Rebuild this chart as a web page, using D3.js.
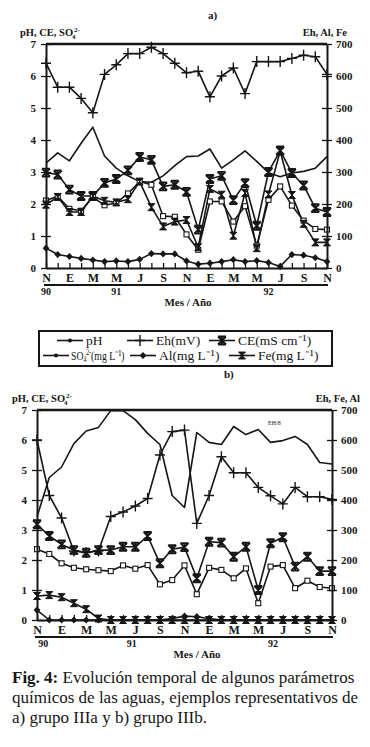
<!DOCTYPE html>
<html>
<head>
<meta charset="utf-8">
<script src="https://cdn.jsdelivr.net/npm/d3@7"></script>
<style>
body { margin: 0; background: #fff; }
svg { display: block; font-family: "Liberation Serif", "Times New Roman", serif; }
</style>
</head>
<body>
<svg width="370" height="747"></svg>
<script>
// Fig. 4 - monthly samples, Nov 1990 .. Nov 1992 (25 months)
var monthTicks = ["N","E","M","M","J","S","N","E","M","M","J","S","N"];
var yearLabels = ["90","91","92"];

// a) grupo IIIa  (pH, CE, SO4 on left axis 0-7 ; Eh, Al, Fe on right axis 0-700)
var phA  = [3.28,3.6,3.35,3.9,4.4,3.5,3.12,2.88,2.7,2.68,2.88,3.2,3.48,3.5,3.72,3.12,3.38,3.66,3.33,2.98,2.85,2.97,3.02,3.12,3.48];
var ehA  = [640,565,565,530,485,605,635,670,670,690,670,640,610,615,535,600,625,545,645,645,645,655,665,660,605];
var ceA  = [2.98,2.92,2.45,2.25,2.25,2.66,2.78,3.05,3.47,3.38,2.55,2.6,2.38,1.2,2.78,2.88,2.12,2.65,1.32,3.0,3.67,2.97,2.58,1.87,1.75];
var so4A = [2.11,2.24,1.85,1.79,2.22,1.96,2.03,2.33,2.7,2.6,1.62,1.6,1.05,0.57,2.08,2.08,1.45,1.93,0.7,2.13,2.55,1.95,1.48,1.22,1.2];
var alA  = [62,42,36,30,25,20,22,20,27,45,44,44,22,12,15,20,26,20,23,17,5,42,40,32,20];
var feA  = [198,222,175,175,225,210,205,215,270,190,130,145,150,65,247,229,101,234,62,230,365,228,138,80,80];

// b) grupo IIIb
var phB  = [3.44,4.75,5.1,5.88,6.3,6.42,6.98,6.98,6.68,6.22,5.85,4.15,3.75,6.25,5.92,5.85,6.45,6.18,6.35,5.92,5.98,6.12,5.85,5.25,5.2];
var ehB  = [600,415,340,230,225,230,345,360,380,405,550,628,633,322,415,544,491,491,442,414,387,442,411,411,402];
var ceB  = [3.19,2.8,2.52,2.33,2.24,2.33,2.33,2.44,2.44,2.8,1.89,2.36,2.43,1.39,2.61,2.58,2.11,2.44,1.0,2.56,2.76,1.78,2.11,1.63,1.63];
var so4B = [2.36,2.2,1.89,1.74,1.69,1.66,1.63,1.82,1.71,1.83,1.19,1.33,1.82,0.86,1.74,1.67,1.39,1.72,0.56,1.78,1.83,1.06,1.31,1.1,1.06];
var alB  = [33,0,0,0,0,0,0,0,0,0,0,5,13,11,5,0,0,0,0,0,0,0,0,0,0];
var feB  = [80,83,76,56,36,5,0,0,0,0,0,0,0,0,0,0,0,0,0,0,0,0,0,0,0];

var ink = "#161616";
var svg = d3.select("svg");

function marker(g, type) {
  if (type == "dot") {
    g.append("circle").attr("r", 2).attr("fill", ink);
  } else if (type == "plus") {
    g.append("path").attr("d", "M-5,0H5M0,-5.5V5.5").attr("stroke", ink).attr("stroke-width", 1.4);
  } else if (type == "star") {
    g.append("path").attr("d", "M-4,-4L4,4M-4,4L4,-4M-4,-4H4M-4,4H4M0,-4V4")
      .attr("stroke", ink).attr("stroke-width", 1.9);
  } else if (type == "square") {
    g.append("rect").attr("x", -2.5).attr("y", -2.5).attr("width", 5).attr("height", 5)
      .attr("fill", "#fff").attr("stroke", ink).attr("stroke-width", 1.1);
  } else if (type == "diamond") {
    g.append("path").attr("d", "M0,-3.6L3.4,0L0,3.6L-3.4,0Z").attr("fill", ink);
  } else if (type == "hour") {
    g.append("path").attr("d", "M-3.5,-3.5H3.5L-3.5,3.5H3.5Z").attr("fill", ink)
      .attr("stroke", ink).attr("stroke-width", 1);
  }
}

function drawChart(o) {
  var g = svg.append("g");
  var x = d3.scaleLinear().domain([0, 24]).range([o.x0, o.x1]);
  var yL = d3.scaleLinear().domain([0, 7]).range([o.y1, o.y0]);
  var yR = d3.scaleLinear().domain([0, 700]).range([o.y1, o.y0]);

  // series lines, then markers on top
  o.series.forEach(function(s) {
    var y = s.axis == "R" ? yR : yL;
    var line = d3.line().x(function(d, i) { return x(i); }).y(function(d) { return y(d); });
    g.append("path").attr("d", line(s.values)).attr("fill", "none")
      .attr("stroke", ink).attr("stroke-width", 1.6).attr("stroke-linejoin", "round");
  });
  o.series.forEach(function(s) {
    if (!s.mark) return;
    var y = s.axis == "R" ? yR : yL;
    s.values.forEach(function(d, i) {
      marker(g.append("g").attr("transform", "translate(" + x(i) + "," + y(d) + ")"), s.mark);
    });
  });

  // axes
  var left = g.append("g").attr("transform", "translate(" + o.x0 + ",0)")
    .call(d3.axisLeft(yL).ticks(7).tickSize(5).tickSizeOuter(0).tickPadding(5));
  left.selectAll(".tick line").attr("x1", 5);
  var right = g.append("g").attr("transform", "translate(" + o.x1 + ",0)")
    .call(d3.axisRight(yR).ticks(7).tickSize(5).tickSizeOuter(0).tickPadding(4));
  right.selectAll(".tick line").attr("x1", -5);
  var bottom = g.append("g").attr("transform", "translate(0," + o.y1 + ")")
    .call(d3.axisBottom(x).tickValues(d3.range(25)).tickSizeInner(-5).tickSizeOuter(0).tickPadding(5)
      .tickFormat(function(i) { return i % 2 ? "" : monthTicks[i / 2]; }));
  [left, right, bottom].forEach(function(a) {
    a.selectAll(".domain").attr("stroke", ink).attr("stroke-width", 2);
    a.selectAll(".tick line").attr("stroke", ink).attr("stroke-width", 1.3);
    a.selectAll("text").attr("fill", ink).attr("font-family", "Liberation Serif")
      .attr("font-weight", "bold").attr("font-size", 11);
  });
  bottom.selectAll("text").attr("font-size", 12);
  g.append("line").attr("x1", o.x0).attr("x2", o.x1).attr("y1", o.y0).attr("y2", o.y0)
    .attr("stroke", ink).attr("stroke-width", 2.4);

  // year row
  g.append("line").attr("x1", o.x0 - 2).attr("x2", o.x1 + 1).attr("y1", o.y1 + 17).attr("y2", o.y1 + 17)
    .attr("stroke", ink).attr("stroke-width", 2);
  yearLabels.forEach(function(t, k) {
    g.append("text").attr("x", x(o.years[k])).attr("y", o.y1 + 27).attr("text-anchor", "middle")
      .attr("font-size", 10).attr("font-weight", "bold").attr("fill", ink).text(t);
  });
  g.append("text").attr("x", o.midX).attr("y", o.y1 + 38).attr("text-anchor", "middle")
    .attr("font-size", 11).attr("font-weight", "bold").attr("fill", ink).text("Mes / Año");

  // titles
  g.append("text").attr("x", o.tagX).attr("y", o.tagY).attr("font-size", 11)
    .attr("font-weight", "bold").attr("fill", ink).text(o.tag);
  var lt = g.append("text").attr("x", o.ltX).attr("y", o.y0 - 8).attr("font-size", 10.5)
    .attr("font-weight", "bold").attr("fill", ink);
  lt.append("tspan").text("pH, CE, SO");
  lt.append("tspan").attr("font-size", 7).attr("dy", -4).attr("dx", 1).text("2-");
  lt.append("tspan").attr("font-size", 7).attr("dy", 7).attr("dx", -8).text("4");
  g.append("text").attr("x", o.rtX).attr("y", o.y0 - 8).attr("text-anchor", "end").attr("font-size", 10.5)
    .attr("font-weight", "bold").attr("fill", ink).text(o.rightTitle);
}

drawChart({
  x0: 46, x1: 327, y0: 44, y1: 268, tag: "a)", tagX: 208, tagY: 19,
  ltX: 20, rtX: 347, rightTitle: "Eh, Al, Fe", years: [0, 6, 19], midX: 188,
  series: [
    { values: phA, axis: "L", mark: null },
    { values: ehA, axis: "R", mark: "plus" },
    { values: ceA, axis: "L", mark: "star" },
    { values: so4A, axis: "L", mark: "square" },
    { values: feA, axis: "R", mark: "hour" },
    { values: alA, axis: "R", mark: "diamond" }
  ]
});

drawChart({
  x0: 37, x1: 332, y0: 410, y1: 620, tag: "b)", tagX: 224, tagY: 378,
  ltX: 12, rtX: 360, rightTitle: "Eh, Fe, Al", years: [0.5, 7.7, 19.2], midX: 197,
  series: [
    { values: phB, axis: "L", mark: null },
    { values: ehB, axis: "R", mark: "plus" },
    { values: ceB, axis: "L", mark: "star" },
    { values: so4B, axis: "L", mark: "square" },
    { values: feB, axis: "R", mark: "hour" },
    { values: alB, axis: "R", mark: "diamond" }
  ]
});
svg.append("text").attr("x", 268).attr("y", 425).attr("font-size", 6).attr("fill", ink).text("EH/8");

// legend
var legendRows = [
  [{ mark: "dot", label: "pH", lx: 57 }, { mark: "plus", label: "Eh(mV)", lx: 127 }, { mark: "star", label: "CE(mS cm⁻¹)", lx: 209 }],
  [{ mark: "dot", label: "SO4", lx: 43 }, { mark: "diamond", label: "Al(mg L⁻¹)", lx: 130 }, { mark: "hour", label: "Fe(mg L⁻¹)", lx: 229 }]
];
var leg = svg.append("g");
leg.append("rect").attr("x", 39).attr("y", 331).attr("width", 293).attr("height", 35)
  .attr("fill", "none").attr("stroke", ink).attr("stroke-width", 2);
legendRows.forEach(function(row, r) {
  var cy = 340.5 + r * 15;
  row.forEach(function(e) {
    leg.append("line").attr("x1", e.lx).attr("x2", e.lx + 26).attr("y1", cy).attr("y2", cy)
      .attr("stroke", ink).attr("stroke-width", 1.6);
    marker(leg.append("g").attr("transform", "translate(" + (e.lx + 13) + "," + cy + ")"), e.mark);
    if (e.label == "SO4") {
      // squeezed horizontally so it fits before the Al entry
      var t = leg.append("g").attr("transform", "translate(" + (e.lx + 28) + "," + (cy + 4) + ") scale(0.72,1)")
        .append("text").attr("font-size", 13.5).attr("fill", ink);
      t.append("tspan").text("SO");
      t.append("tspan").attr("font-size", 8).attr("dy", 2).text("4");
      t.append("tspan").attr("font-size", 8).attr("dy", -7).text("2-");
      t.append("tspan").attr("dy", 5).text("(mg L⁻¹)");
    } else {
      leg.append("text").attr("x", e.lx + 29).attr("y", cy + 4).attr("font-size", 13.5)
        .attr("fill", ink).text(e.label);
    }
  });
});

// caption
var caption = svg.append("text").attr("x", 12).attr("y", 683).attr("font-size", 17).attr("fill", ink);
caption.append("tspan").attr("font-weight", "bold").text("Fig. 4:");
caption.append("tspan").text(" Evolución temporal de algunos parámetros");
svg.append("text").attr("x", 12).attr("y", 703).attr("font-size", 17).attr("fill", ink)
  .text("químicos de las aguas, ejemplos representativos de");
svg.append("text").attr("x", 12).attr("y", 723).attr("font-size", 17).attr("fill", ink)
  .text("a) grupo IIIa y b) grupo IIIb.");
</script>
</body>
</html>
